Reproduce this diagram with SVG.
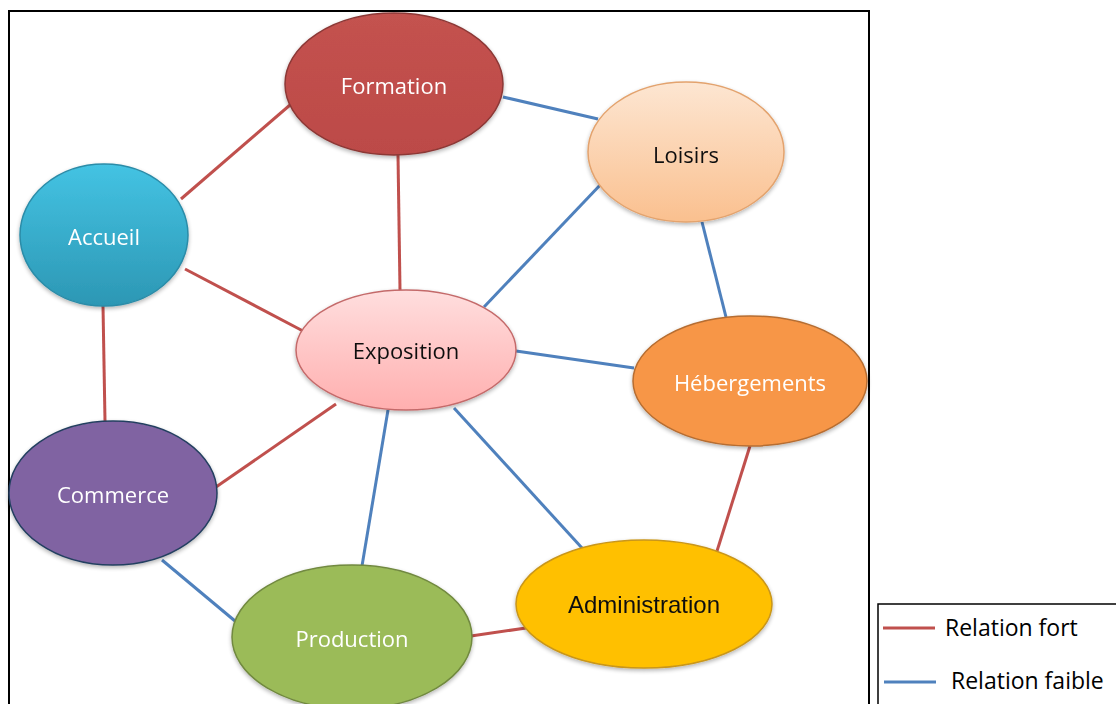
<svg xmlns="http://www.w3.org/2000/svg" width="1116" height="704" viewBox="0 0 1116 704">
<defs>
<linearGradient id="gForm" x1="0" y1="0" x2="0" y2="1"><stop offset="0" stop-color="#C4524F"/><stop offset="1" stop-color="#BC4A47"/></linearGradient>
<linearGradient id="gLois" x1="0" y1="0" x2="0" y2="1"><stop offset="0" stop-color="#FDE6D2"/><stop offset="1" stop-color="#FAC08F"/></linearGradient>
<linearGradient id="gAcc" x1="0" y1="0" x2="0" y2="1"><stop offset="0" stop-color="#44C3E3"/><stop offset="1" stop-color="#2C97B4"/></linearGradient>
<linearGradient id="gExpo" x1="0" y1="0" x2="0" y2="1"><stop offset="0" stop-color="#FFDEDE"/><stop offset="1" stop-color="#FFAFAF"/></linearGradient>
<filter id="sh" x="-10%" y="-10%" width="120%" height="125%"><feGaussianBlur in="SourceAlpha" stdDeviation="2"/><feOffset dy="2"/><feComponentTransfer><feFuncA type="linear" slope="0.3"/></feComponentTransfer><feMerge><feMergeNode/><feMergeNode in="SourceGraphic"/></feMerge></filter>
</defs>
<style>
.strong{stroke:#C0504D;stroke-width:3;fill:none}
.weak{stroke:#4F81BD;stroke-width:3;fill:none}
.lbl{font-family:"Open Sans","Noto Sans",sans-serif;font-size:22px;text-anchor:middle;dominant-baseline:central}
.w{fill:#FFFFFF}
.k{fill:#111111}
.leg{font-family:"Open Sans","Noto Sans",sans-serif;font-size:23px;fill:#000}
</style>
<rect x="0" y="0" width="1116" height="704" fill="#FFFFFF"/>
<rect id="frame" x="9" y="11" width="860" height="700" fill="none" stroke="#000" stroke-width="2"/>
<g id="connectors">
<line class="strong" x1="290" y1="105" x2="181" y2="199"/>
<line class="strong" x1="398" y1="155" x2="400" y2="290"/>
<line class="strong" x1="185" y1="269" x2="303" y2="331"/>
<line class="strong" x1="103" y1="306" x2="105" y2="421"/>
<line class="strong" x1="336" y1="404" x2="216" y2="487"/>
<line class="strong" x1="750" y1="446" x2="717" y2="551"/>
<line class="strong" x1="471" y1="636" x2="526" y2="628"/>
<line class="weak" x1="503" y1="97" x2="598" y2="119"/>
<line class="weak" x1="603" y1="182" x2="484" y2="307"/>
<line class="weak" x1="702" y1="222" x2="726" y2="317"/>
<line class="weak" x1="516" y1="351" x2="634" y2="368"/>
<line class="weak" x1="388" y1="410" x2="362" y2="566"/>
<line class="weak" x1="454" y1="408" x2="582" y2="548"/>
<line class="weak" x1="162" y1="560" x2="235" y2="621"/>
</g>
<g id="formation" filter="url(#sh)"><ellipse cx="394" cy="84" rx="109" ry="71" fill="url(#gForm)" stroke="#8C3836" stroke-width="1.5"/><text class="lbl w" x="394" y="85">Formation</text></g>
<g id="loisirs" filter="url(#sh)"><ellipse cx="686" cy="152" rx="98" ry="70" fill="url(#gLois)" stroke="#E3A36E" stroke-width="1.5"/><text class="lbl k" x="686" y="154">Loisirs</text></g>
<g id="accueil" filter="url(#sh)"><ellipse cx="104" cy="235" rx="84" ry="71" fill="url(#gAcc)" stroke="#2B8CA8" stroke-width="1.5"/><text class="lbl w" x="104" y="236">Accueil</text></g>
<g id="exposition" filter="url(#sh)"><ellipse cx="406" cy="350" rx="110" ry="60" fill="url(#gExpo)" stroke="#C46A6A" stroke-width="1.5"/><text class="lbl k" x="406" y="350">Exposition</text></g>
<g id="hebergements" filter="url(#sh)"><ellipse cx="750" cy="381" rx="117" ry="65" fill="#F79646" stroke="#B66D31" stroke-width="1.5"/><text class="lbl w" x="750" y="382">Hébergements</text></g>
<g id="commerce" filter="url(#sh)"><ellipse cx="113" cy="493" rx="104" ry="72" fill="#8064A2" stroke="#243F60" stroke-width="1.5"/><text class="lbl w" x="113" y="494">Commerce</text></g>
<g id="production" filter="url(#sh)"><ellipse cx="352" cy="637" rx="120" ry="72" fill="#9BBB59" stroke="#71893F" stroke-width="1.5"/><text class="lbl w" x="352" y="638">Production</text></g>
<g id="administration" filter="url(#sh)"><ellipse cx="644" cy="604" rx="128" ry="64" fill="#FFC000" stroke="#C9961A" stroke-width="1.5"/><text class="lbl k" x="644" y="604" style="font-family:'Liberation Sans',Arial,sans-serif;font-size:24px">Administration</text></g>
<g id="legend">
<rect x="878" y="604" width="250" height="120" fill="#FFFFFF" stroke="#000" stroke-width="1.5"/>
<line class="strong" x1="883" y1="628" x2="935" y2="628"/>
<text class="leg" x="945" y="636">Relation fort</text>
<line class="weak" x1="884" y1="682" x2="936" y2="682"/>
<text class="leg" x="951" y="689">Relation faible</text>
</g>
</svg>
